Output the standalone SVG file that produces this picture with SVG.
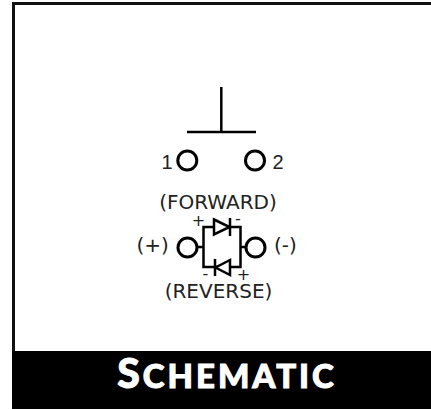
<svg xmlns="http://www.w3.org/2000/svg" width="431" height="410" viewBox="0 0 431 410">
<style>
.l{fill:none;stroke:#000;stroke-width:2.5}
.c{fill:none;stroke:#000;stroke-width:3}
.t{font-family:"DejaVu Sans",sans-serif;font-size:20px;fill:#222}
.s{font-size:16px}
.a{font-family:"Liberation Sans",sans-serif}
</style>
<rect width="431" height="410" fill="#fff"/>
<g id="frame"><path d="M13.500 352V3.500H431" fill="none" stroke="#111" stroke-width="3"/><rect x="12" y="351" width="419" height="58" fill="#000"/><text x="227" y="388" text-anchor="middle" font-family="Lato,sans-serif" font-weight="900" fill="#fff" stroke="#fff" stroke-width="1" letter-spacing="3" font-size="41">S<tspan font-size="33">CHEMATIC</tspan></text></g>
<g id="connectors">
<path class="l" d="M221.300 87V132M187 132H256"/>
<path class="l" d="M197 247H203.500M203.500 227H240.500V267H203.500ZM240.500 247H246"/>
</g>
<g id="terminal-1"><circle class="c" cx="187.300" cy="160.500" r="9.500"/><text class="t a" x="161.500" y="169">1</text></g>
<g id="terminal-2"><circle class="c" cx="255" cy="160.500" r="9.500"/><text class="t a" x="272.500" y="169">2</text></g>
<g id="terminal-plus"><circle class="c" cx="187.500" cy="247.500" r="9.500"/><text class="t" x="136.500" y="252">(+)</text></g>
<g id="terminal-minus"><circle class="c" cx="255.500" cy="247.500" r="9.500"/><text class="t" x="274" y="252">(-)</text></g>
<g id="diode-forward"><path d="M214 219.500L229.500 227L214 234.500Z" fill="#fff" stroke="#000" stroke-width="2.500"/><path class="l" d="M230 218V236"/></g>
<g id="diode-reverse"><path d="M230 260L215.500 267.500L230 275Z" fill="#fff" stroke="#000" stroke-width="2.500"/><path class="l" d="M215 259V276"/></g>
<g id="labels"><text class="t" x="218" y="208.500" text-anchor="middle">(FORWARD)</text><text class="t" x="218.500" y="298" text-anchor="middle">(REVERSE)</text><text class="t s" x="198.500" y="225.500" text-anchor="middle">+</text><text class="t s" x="238" y="224" text-anchor="middle">-</text><text class="t s" x="205.500" y="279" text-anchor="middle">-</text><text class="t s" x="243.500" y="279.500" text-anchor="middle">+</text></g>
</svg>
